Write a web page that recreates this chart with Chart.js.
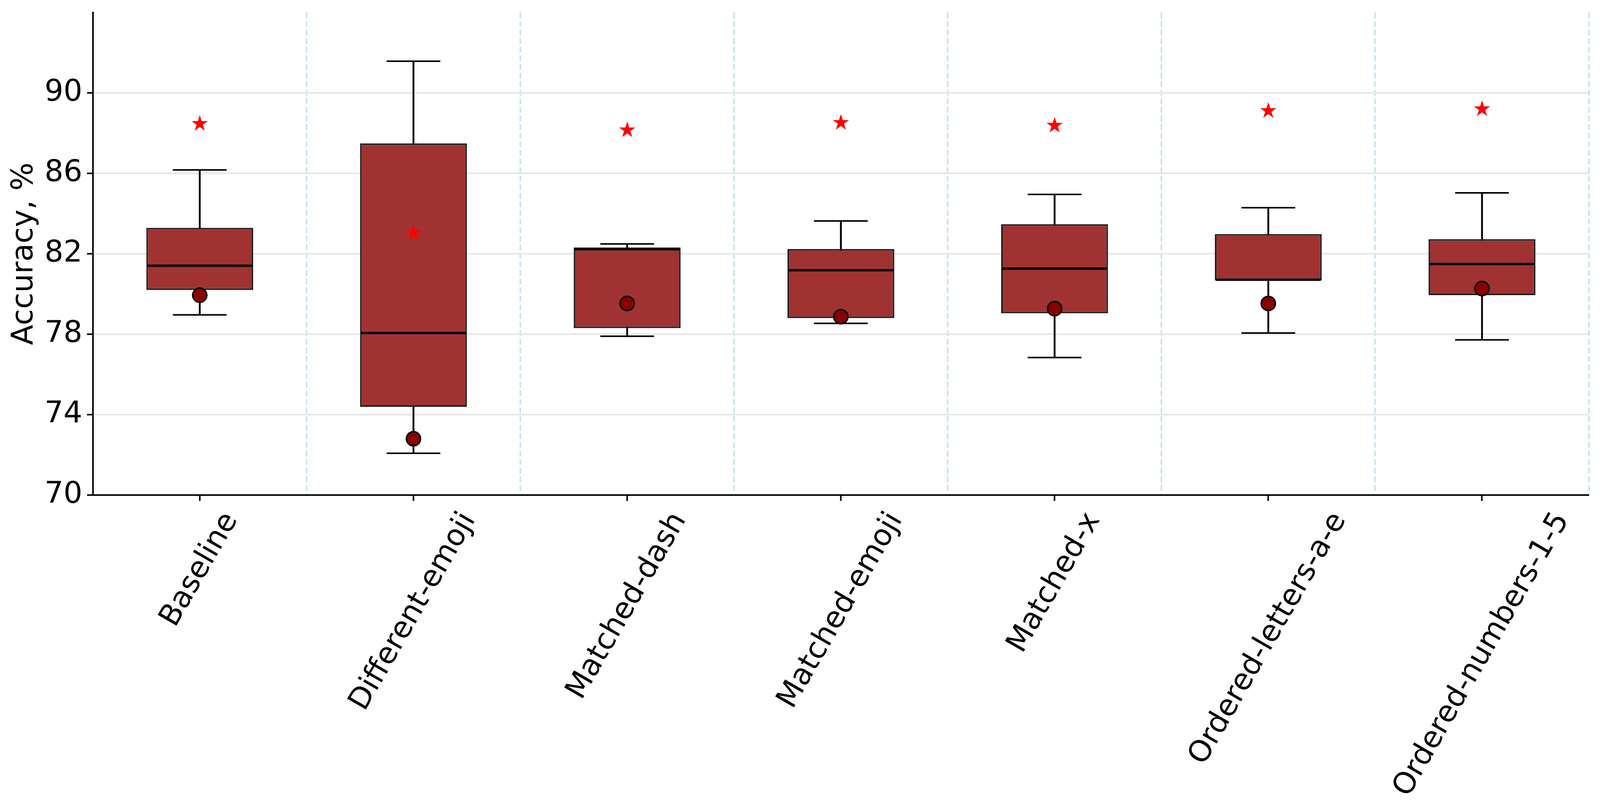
<!DOCTYPE html>
<html>
<head>
<meta charset="utf-8">
<script src="https://cdn.jsdelivr.net/npm/chart.js@4.4.1/dist/chart.umd.min.js"></script>
<style>
  html, body { margin: 0; padding: 0; background: #fff; overflow: hidden; }
  #wrap { width: 100vw; height: 2067px; }
</style>
</head>
<body>
<div id="wrap"><canvas id="chart"></canvas></div>
<script>
// values
const labels = ['Baseline', 'Different-emoji', 'Matched-dash', 'Matched-emoji', 'Matched-x', 'Ordered-letters-a-e', 'Ordered-numbers-1-5'];
const whiskerLow = [78.96, 72.08, 77.90, 78.54, 76.84, 78.06, 77.72];
const q1 = [80.20, 74.39, 78.30, 78.80, 79.04, 80.67, 79.94];
const median = [81.41, 78.06, 82.23, 81.18, 81.26, 80.71, 81.49];
const q3 = [83.29, 87.49, 82.31, 82.24, 83.47, 82.98, 82.73];
const whiskerHigh = [86.17, 91.58, 82.49, 83.63, 84.95, 84.29, 85.03];
const dots = [79.94, 72.80, 79.53, 78.87, 79.27, 79.53, 80.27];
const stars = [88.47, 83.03, 88.15, 88.52, 88.38, 89.11, 89.20];
const yTicks = [70, 74, 78, 82, 86, 90];

const FONT = 76;
// the window may be narrower than 4168, so scale horizontal sizes to fit
const sx = Math.min(window.innerWidth, 4168) / 4168;
Chart.defaults.font.family = "'DejaVu Sans', sans-serif";
Chart.defaults.color = '#000';

// filled red star marker
function makeStar() {
    const c = document.createElement('canvas');
    c.width = 50; c.height = 50;
    const g = c.getContext('2d');
    const R = 22, r = 22 * 0.382;
    g.beginPath();
    for (let k = 0; k < 10; k++) {
        const ang = -Math.PI / 2 + k * Math.PI / 5;
        const rad = k % 2 === 0 ? R : r;
        g.lineTo(25 + rad * Math.cos(ang), 25 + rad * Math.sin(ang));
    }
    g.closePath();
    g.fillStyle = '#ff0000';
    g.fill();
    return c;
}

// rotated category labels, centred under each tick like matplotlib
const xLabelPlugin = {
    id: 'xLabels',
    afterDraw(chart) {
        const sc = chart.scales.x;
        const ctx = chart.ctx;
        const a = Math.PI / 3;
        const h = FONT * 1.164;
        labels.forEach((lab, i) => {
            ctx.save();
            ctx.font = FONT + "px 'DejaVu Sans'";
            ctx.fillStyle = '#000';
            ctx.textAlign = 'center';
            ctx.textBaseline = 'middle';
            const w = ctx.measureText(lab).width;
            const bh = w * Math.sin(a) + h * Math.cos(a);
            ctx.translate(sc.getPixelForTick(i), sc.top + 30 + bh / 2);
            ctx.rotate(-a);
            ctx.fillText(lab, 0, 0);
            ctx.restore();
        });
    }
};

const ctx = document.getElementById('chart').getContext('2d');
const chart = new Chart(ctx, {
    data: {
        labels: labels,
        datasets: [
            {
                type: 'bar', xAxisID: 'x',
                data: whiskerLow.map((v, i) => [v, whiskerHigh[i]]),
                backgroundColor: '#000',
                barThickness: 4,
                grouped: false,
                order: 6
            },
            {
                type: 'bar', xAxisID: 'x',
                data: q1.map((v, i) => [v, q3[i]]),
                backgroundColor: '#a03232',
                borderColor: '#1e1e1e',
                borderWidth: 4,
                borderSkipped: false,
                barPercentage: 0.5,
                categoryPercentage: 1,
                grouped: false,
                order: 5
            },
            {
                type: 'line', xAxisID: 'x', data: median, showLine: false,
                pointStyle: 'line', pointRadius: 136 * sx,
                pointBorderColor: '#000', pointBorderWidth: 6, order: 4
            },
            {
                type: 'line', xAxisID: 'x', data: whiskerLow, showLine: false,
                pointStyle: 'line', pointRadius: 70 * sx,
                pointBorderColor: '#000', pointBorderWidth: 4, order: 4
            },
            {
                type: 'line', xAxisID: 'x', data: whiskerHigh, showLine: false,
                pointStyle: 'line', pointRadius: 70 * sx,
                pointBorderColor: '#000', pointBorderWidth: 4, order: 4
            },
            {
                type: 'line', xAxisID: 'x', data: dots, showLine: false,
                pointStyle: 'circle', pointRadius: 18,
                pointBackgroundColor: '#8b0000', pointBorderColor: '#000',
                pointBorderWidth: 4, order: 2
            },
            {
                type: 'line', xAxisID: 'x', data: stars, showLine: false,
                pointStyle: makeStar(), pointRadius: 22, order: 1
            }
        ]
    },
    options: {
        responsive: true,
        maintainAspectRatio: false,
        devicePixelRatio: 1,
        animation: false,
        events: [],
        layout: { autoPadding: false, padding: { top: 32, right: 29 * sx, left: 0, bottom: 0 } },
        plugins: { legend: { display: false }, tooltip: { enabled: false } },
        scales: {
            x: {
                type: 'category',
                position: 'bottom',
                offset: true,
                grid: {
                    offset: false,
                    drawOnChartArea: false,
                    drawTicks: true,
                    tickLength: 15,
                    tickWidth: 4,
                    tickColor: '#000'
                },
                border: { display: true, color: '#000', width: 4 },
                ticks: { display: false },
                afterFit: s => { s.height = 799; s.paddingLeft = 0; s.paddingRight = 0; }
            },
            x2: {
                type: 'category',
                position: 'bottom',
                offset: true,
                grid: {
                    offset: true,
                    drawTicks: false,
                    lineWidth: 4,
                    color: c => (c.index === 0 || c.index >= labels.length) ? 'rgba(0,0,0,0)' : 'rgba(173,216,230,0.7)'
                },
                border: { display: false, dash: [15, 7] },
                ticks: { display: false },
                afterFit: s => { s.height = 0; s.paddingLeft = 0; s.paddingRight = 0; }
            },
            y: {
                min: 70,
                max: 94,
                afterBuildTicks: s => { s.ticks = yTicks.map(v => ({ value: v })); },
                ticks: {
                    font: { size: FONT },
                    color: '#000',
                    padding: 12
                },
                grid: {
                    color: c => c.tick && c.tick.value === 70 ? 'rgba(0,0,0,0)' : '#e6e6e6',
                    lineWidth: 4,
                    tickLength: 15,
                    tickWidth: 4,
                    tickColor: '#000'
                },
                border: { display: true, color: '#000', width: 4 },
                title: {
                    display: true,
                    text: 'Accuracy, %',
                    font: { size: FONT, lineHeight: 1.2 },
                    color: '#000',
                    padding: { top: 18 * sx, bottom: 0 }
                },
                afterFit: s => { s.width = 242 * sx; s.paddingTop = 0; s.paddingBottom = 0; }
            }
        }
    },
    plugins: [xLabelPlugin]
});
</script>
</body>
</html>
